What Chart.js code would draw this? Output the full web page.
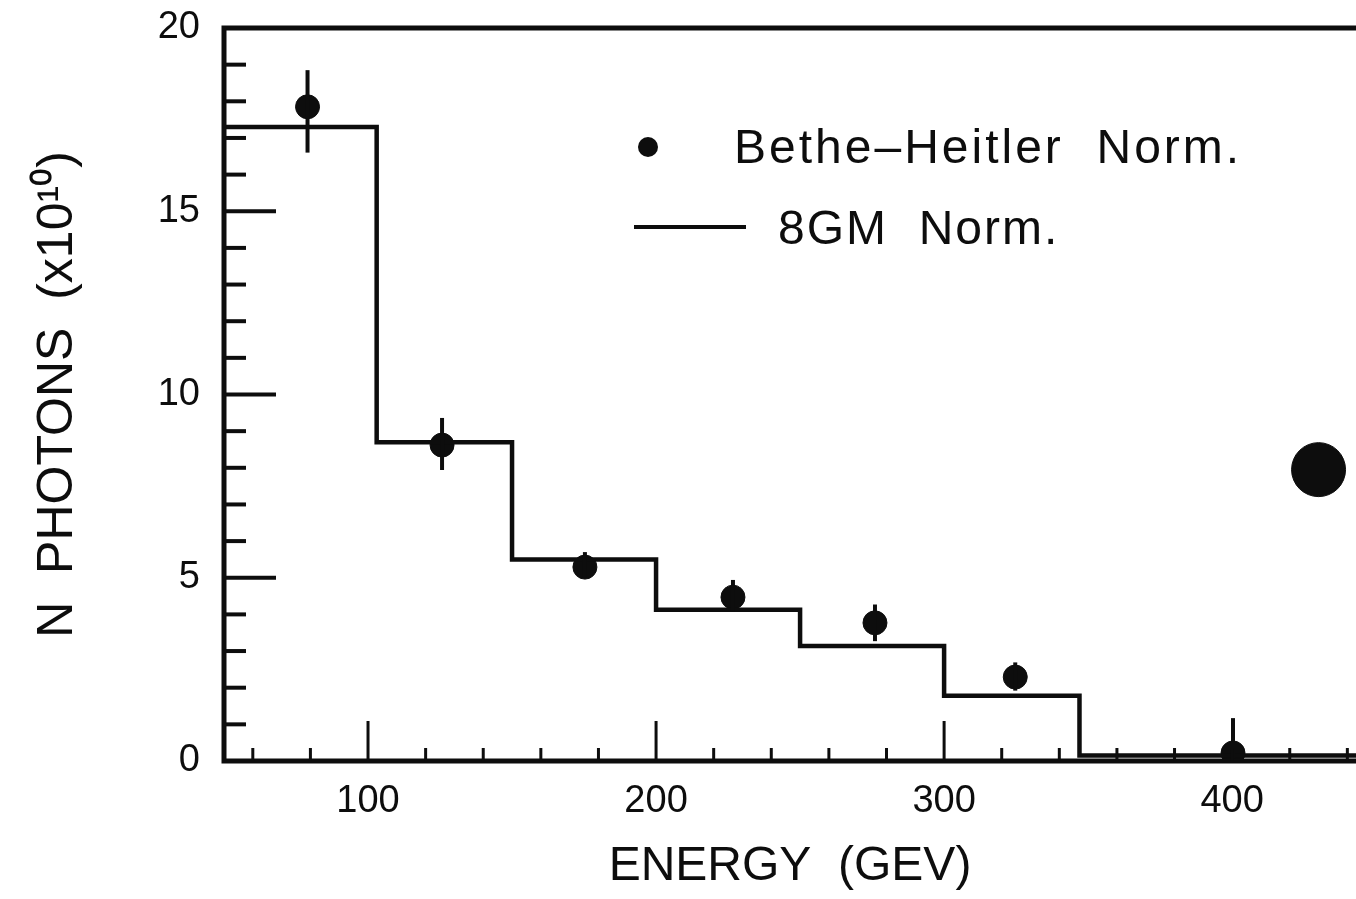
<!DOCTYPE html>
<html>
<head>
<meta charset="utf-8">
<script src="https://cdn.jsdelivr.net/npm/chart.js@4"></script>
<style>
  html, body { margin: 0; padding: 0; background: #fff; }
  #wrap { width: 1356px; height: 899px; }
</style>
</head>
<body>
<div id="wrap"><canvas id="chart" width="1356" height="899"></canvas></div>
<script>
// histogram (BGM normalisation): bin edges and bin contents
const binEdges = [50, 103, 150, 200, 250, 300, 347, 443];
const bgmNorm = [17.3, 8.7, 5.5, 4.13, 3.14, 1.78, 0.15];

// Bethe-Heitler points with error bars
const bhEnergy = [79, 125.7, 175.3, 226.7, 276, 324.7, 400.3];
const bhNorm = [17.85, 8.62, 5.29, 4.47, 3.77, 2.29, 0.22];
const bhErrUp = [1.0, 0.74, 0.41, 0.47, 0.5, 0.4, 0.95];
const bhErrDown = [1.25, 0.68, 0.3, 0.4, 0.5, 0.37, 0.22];

// stray blot on the scan
const blotX = [430];
const blotY = [7.95];

const yTickLabels = [0, 5, 10, 15, 20];
const xTickLabels = [100, 200, 300, 400];

const ink = '#0d0d0d';
const font = '"Liberation Sans", Arial, sans-serif';

// step line: point i carries the bin that starts at edge i
const histData = binEdges.map((e, i) => ({ x: e, y: bgmNorm[Math.min(i, bgmNorm.length - 1)] }));
const bhData = bhEnergy.map((e, i) => ({ x: e, y: bhNorm[i] }));

const framePlugin = {
    id: 'frame',
    afterDatasetsDraw(chart) {
        const ctx = chart.ctx;
        const xs = chart.scales.x, ys = chart.scales.y;
        const a = chart.chartArea;
        ctx.save();
        ctx.strokeStyle = ink;
        ctx.lineCap = 'butt';

        // error bars
        ctx.lineWidth = 4;
        bhEnergy.forEach((e, i) => {
            const px = xs.getPixelForValue(e);
            ctx.beginPath();
            ctx.moveTo(px, ys.getPixelForValue(bhNorm[i] + bhErrUp[i]));
            ctx.lineTo(px, Math.min(a.bottom, ys.getPixelForValue(bhNorm[i] - bhErrDown[i])));
            ctx.stroke();
        });

        // frame: left, bottom, top
        ctx.lineWidth = 5;
        ctx.beginPath();
        ctx.moveTo(a.right, a.top);
        ctx.lineTo(a.left, a.top);
        ctx.lineTo(a.left, a.bottom);
        ctx.lineTo(a.right, a.bottom);
        ctx.stroke();

        // inward ticks on y
        ctx.lineWidth = 4;
        for (let v = 1; v < 20; v++) {
            const py = ys.getPixelForValue(v);
            const len = v % 5 === 0 ? 52 : 22;
            ctx.beginPath();
            ctx.moveTo(a.left, py);
            ctx.lineTo(a.left + len, py);
            ctx.stroke();
        }
        // inward ticks on x
        ctx.lineWidth = 3;
        for (let v = 60; v < 443; v += 20) {
            const px = xs.getPixelForValue(v);
            const len = (v % 100 === 0 && v < 400) ? 40 : 13;
            ctx.beginPath();
            ctx.moveTo(px, a.bottom);
            ctx.lineTo(px, a.bottom - len);
            ctx.stroke();
        }

        // legend
        const ds = chart.data.datasets;
        ctx.fillStyle = ink;
        ctx.beginPath();
        ctx.arc(648, 147, 10, 0, Math.PI * 2);
        ctx.fill();
        ctx.lineWidth = 4;
        ctx.beginPath();
        ctx.moveTo(634, 227);
        ctx.lineTo(746, 227);
        ctx.stroke();
        ctx.font = '48px ' + font;
        ctx.letterSpacing = '3px';
        ctx.textAlign = 'left';
        ctx.textBaseline = 'alphabetic';
        ctx.fillText(ds[1].label, 734, 163);
        ctx.letterSpacing = '2px';
        ctx.fillText(ds[0].label, 778, 244);
        ctx.restore();
    }
};

new Chart(document.getElementById('chart'), {
    type: 'scatter',
    data: {
        datasets: [
            {
                label: '8GM  Norm.',
                type: 'line',
                data: histData,
                stepped: true,
                borderColor: ink,
                borderWidth: 4.5,
                pointRadius: 0,
                fill: false
            },
            {
                label: 'Bethe\u2013Heitler  Norm.',
                data: bhData,
                backgroundColor: ink,
                borderColor: ink,
                pointRadius: 12
            },
            {
                label: 'blot',
                data: blotX.map((x, i) => ({ x: x, y: blotY[i] })),
                backgroundColor: ink,
                borderColor: ink,
                pointRadius: 27
            }
        ]
    },
    options: {
        responsive: false,
        animation: false,
        layout: { autoPadding: false, padding: { top: 28, right: 0, left: 0, bottom: 0 } },
        plugins: {
            legend: { display: false },
            tooltip: { enabled: false }
        },
        scales: {
            x: {
                type: 'linear',
                min: 50,
                max: 443,
                grid: { display: false, drawTicks: false },
                border: { display: false },
                afterBuildTicks: s => { s.ticks = xTickLabels.map(v => ({ value: v })); },
                afterFit: s => {
                    s.height = 138;
                    s.paddingLeft = 0;
                    s.paddingRight = 0;
                },
                ticks: {
                    color: ink,
                    padding: 18,
                    font: { family: font, size: 38 }
                },
                title: {
                    display: true,
                    text: 'ENERGY  (GEV)',
                    color: ink,
                    font: { family: font, size: 48, lineHeight: 1 },
                    padding: { top: 0, bottom: 8 }
                }
            },
            y: {
                type: 'linear',
                min: 0,
                max: 20,
                grid: { display: false, drawTicks: false },
                border: { display: false },
                afterBuildTicks: s => { s.ticks = yTickLabels.map(v => ({ value: v })); },
                afterFit: s => {
                    s.width = 224;
                    s.paddingTop = 0;
                    s.paddingBottom = 0;
                },
                ticks: {
                    color: ink,
                    padding: 24,
                    font: { family: font, size: 38 }
                },
                title: {
                    display: true,
                    text: 'N  PHOTONS  (x10\u00b9\u2070)',
                    color: ink,
                    font: { family: font, size: 50, lineHeight: 1 },
                    padding: { top: 33, bottom: 0 }
                }
            }
        }
    },
    plugins: [framePlugin]
});
</script>
</body>
</html>
